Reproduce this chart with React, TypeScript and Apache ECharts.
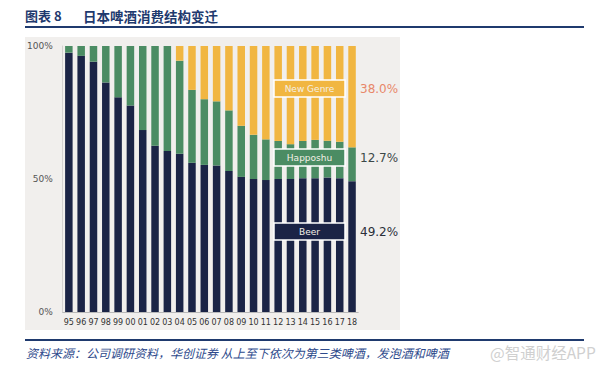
import React, { useEffect, useRef } from "react";
import * as echarts from "echarts";

const years = ["95","96","97","98","99","00","01","02","03","04","05","06","07","08","09","10","11","12","13","14","15","16","17","18"];
const beer = [97.5, 96.3, 94.1, 86.3, 80.7, 77.6, 68.4, 62.5, 60.5, 59.5, 56.1, 55.3, 55.1, 53.0, 50.8, 50.0, 49.6, 50.0, 50.0, 50.3, 50.3, 50.6, 50.3, 49.2];
const happoshu = [2.5, 3.7, 5.9, 13.7, 19.3, 22.4, 31.6, 37.5, 39.5, 35.0, 27.4, 24.7, 24.1, 22.8, 19.2, 16.6, 15.3, 14.3, 13.1, 14.0, 14.4, 13.8, 13.7, 12.7];
const newGenre = [0, 0, 0, 0, 0, 0, 0, 0, 0, 5.5, 16.5, 20.0, 20.8, 24.2, 30.0, 33.4, 35.1, 35.7, 36.9, 35.7, 35.3, 35.6, 36.0, 38.1];
const yTicks = [0, 50, 100];
const seriesNames = ["Beer", "Happoshu", "New Genre"];
const endLabels = ["49.2%", "12.7%", "38.0%"];

const NAVY = "#1b2446";
const GREEN = "#4b8c63";
const YELLOW = "#f1b641";

export default function App() {
  const ref = useRef<HTMLDivElement>(null);
  useEffect(() => {
    const chart = echarts.init(ref.current!, null, { renderer: "svg" });
    const font = "DejaVu Sans";
    const box = (name: string, color: string, y: number) => ({
      type: "group",
      z: 100,
      children: [
        { type: "rect", shape: { x: 274, y, width: 71, height: 17 }, style: { fill: color, stroke: "#ffffff", lineWidth: 1.5 }, z: 100 },
        { type: "text", x: 309.5, y: y + 8.5, style: { text: name, fill: "#f4f0e6", font: `9px ${font}`, textAlign: "center", textVerticalAlign: "middle" }, z: 101 },
      ],
    });
    const valLabel = (t: string, color: string, y: number) => ({
      type: "text", x: 360, y, z: 100,
      style: { text: t, fill: color, font: `12px ${font}`, textAlign: "left", textVerticalAlign: "middle" },
    });
    chart.setOption({
      animation: false,
      grid: { left: 62.7, right: 250.8, top: 46, bottom: 58 },
      xAxis: {
        type: "category",
        data: years,
        axisTick: { show: false },
        axisLine: { show: true, lineStyle: { color: "#b9b9b9", width: 1 } },
        axisLabel: { color: "#333", fontSize: 8, fontFamily: font, margin: 6, interval: 0 },
      },
      yAxis: {
        type: "value",
        min: 0,
        max: 100,
        interval: 50,
        splitLine: { show: false },
        axisLine: { show: true, lineStyle: { color: "#d4d2d0", width: 1 } },
        axisTick: { show: false },
        axisLabel: {
          color: "#555",
          fontSize: 9,
          fontFamily: font,
          margin: 10,
          formatter: (v: number) => (yTicks.includes(v) ? v + "%" : ""),
        },
      },
      series: [
        { name: seriesNames[0], type: "bar", stack: "s", data: beer, barWidth: 7.5, itemStyle: { color: NAVY } },
        { name: seriesNames[1], type: "bar", stack: "s", data: happoshu, barWidth: 7.5, itemStyle: { color: GREEN } },
        { name: seriesNames[2], type: "bar", stack: "s", data: newGenre, barWidth: 7.5, itemStyle: { color: YELLOW } },
      ],
      graphic: [
        { type: "rect", z: -10, silent: true, shape: { x: 25, y: 37, width: 375, height: 293 }, style: { fill: "#f1efed" } },
        { type: "text", x: 25, y: 15.5, style: { text: "图表 8", fill: "#1f3a6e", font: `bold 13px "Noto Sans CJK SC"`, textVerticalAlign: "middle" } },
        { type: "text", x: 83, y: 15.5, style: { text: "日本啤酒消费结构变迁", fill: "#1f3a6e", font: `bold 13.5px "Noto Sans CJK SC"`, textVerticalAlign: "middle" } },
        { type: "line", shape: { x1: 25, y1: 27, x2: 584, y2: 27 }, style: { stroke: "#1f3a6e", lineWidth: 2 } },
        { type: "line", shape: { x1: 25, y1: 340, x2: 584, y2: 340 }, style: { stroke: "#1f3a6e", lineWidth: 2 } },
        { type: "text", x: 26, y: 352, style: { text: "资料来源：公司调研资料，华创证券 从上至下依次为第三类啤酒，发泡酒和啤酒", fill: "#2e4a8c", font: `italic 12px "Noto Sans CJK SC"`, textVerticalAlign: "middle" } },
        { type: "text", x: 490, y: 352, style: { text: "@智通财经APP", fill: "#d0d0d0", font: `15.5px "Noto Sans CJK SC"`, textVerticalAlign: "middle" } },
        box(seriesNames[2], YELLOW, 80),
        box(seriesNames[1], GREEN, 149),
        box(seriesNames[0], NAVY, 223),
        valLabel(endLabels[2], "#e8876a", 88.5),
        valLabel(endLabels[1], "#3c4848", 157.5),
        valLabel(endLabels[0], "#2a2f3a", 232),
      ],
    });
    return () => chart.dispose();
  }, []);
  return <div ref={ref} style={{ position: "absolute", left: 0, top: 0, width: 609, height: 370, background: "#ffffff" }} />;
}
